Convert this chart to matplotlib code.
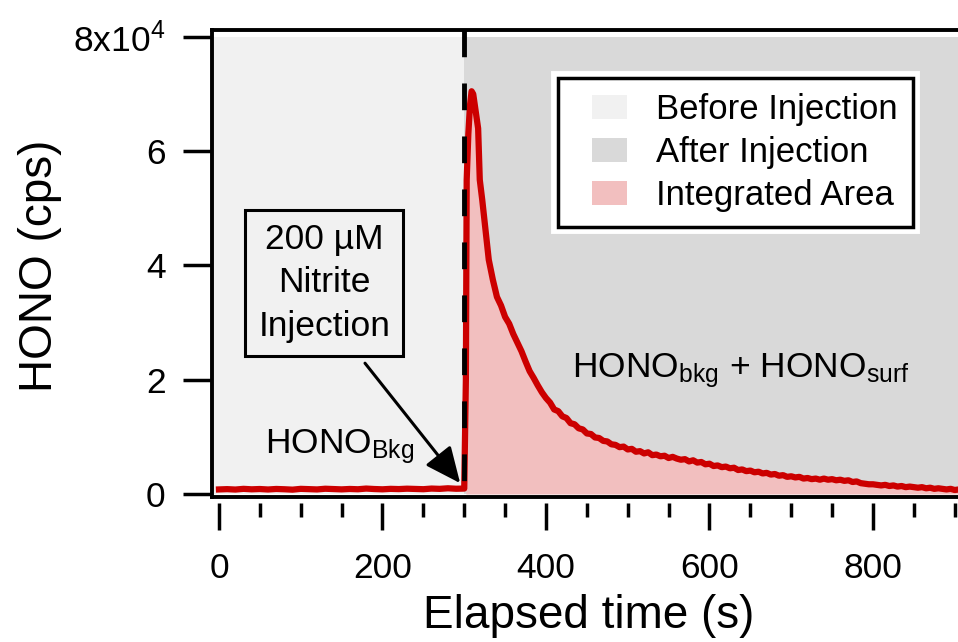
import matplotlib
matplotlib.use('Agg')
import matplotlib.pyplot as plt
import matplotlib.patches as mpatches
import matplotlib.patheffects as pe
from matplotlib.legend_handler import HandlerPatch
from matplotlib.ticker import FixedLocator, FixedFormatter, MultipleLocator
import numpy as np

plt.rcParams['font.family'] = 'Liberation Sans'
plt.rcParams['mathtext.fontset'] = 'custom'
plt.rcParams['mathtext.rm'] = 'Liberation Sans'
plt.rcParams['mathtext.it'] = 'Liberation Sans:italic'
plt.rcParams['mathtext.bf'] = 'Liberation Sans:bold'

# elapsed time (s) and HONO signal (cps)
time_s = [0, 10, 20, 30, 40, 50, 60, 70, 80, 90, 100, 110, 120, 130, 140, 150,
          160, 170, 180, 190, 200, 210, 220, 230, 240, 250, 260, 270, 280, 290, 300,
          302, 303, 305, 307, 309, 311, 313, 315, 317, 319,
          322, 325, 330, 335, 340, 345, 350, 355, 360, 365, 370, 375, 380, 385, 390, 395,
          400, 405, 410, 415, 420, 425, 430, 435, 440, 445, 450, 455, 460, 465, 470, 475,
          480, 485, 490, 495, 500, 505, 510, 515, 520, 525, 530, 535, 540, 545, 550, 555,
          560, 565, 570, 575, 580, 585, 590, 595, 600, 605, 610, 615, 620, 625, 630, 635,
          640, 645, 650, 655, 660, 665, 670, 675, 680, 685, 690, 695, 700, 705, 710, 715,
          720, 725, 730, 735, 740, 745, 750, 755, 760, 765, 770, 775, 780, 785, 790, 795,
          800, 805, 810, 815, 820, 825, 830, 835, 840, 845, 850, 855, 860, 865, 870, 875,
          880, 885, 890, 895, 900, 905, 910]
hono_cps = [800, 850, 780, 900, 820, 870, 790, 880, 830, 760, 900, 850, 800, 920, 860, 810,
            880, 830, 950, 870, 820, 900, 860, 930, 880, 840, 950, 900, 1000, 920, 950,
            20000, 55000, 63000, 68000, 70500, 70000, 68000, 66000, 64000, 55000,
            51500, 47500, 41000, 37500, 34500, 33000, 31000, 29800, 28000, 26500, 25000, 23200,
            21500, 20300, 19000, 17800,
            16800, 16000, 14800, 14500, 13600, 13300, 12400, 12200, 11500, 11300, 10600, 10500,
            9900, 9800, 9300, 9200, 8700, 8600, 8200, 8300, 7800, 7900, 7400, 7500, 7100, 7300,
            6800, 6900, 6600, 6700, 6300, 6500, 6200, 6000, 6100, 5700, 5900, 5500, 5600, 5200,
            5300, 4900, 5000, 4700, 4800, 4500, 4600, 4200, 4300, 4000, 4100, 3800, 3900, 3600,
            3700, 3400, 3500, 3200, 3300, 3000, 3100, 2900, 3000, 2700, 2800, 2600, 2700, 2500,
            2700, 2500, 2600, 2400, 2500, 2300, 2400, 2100, 2200, 1900, 1800, 1700, 1700, 1600,
            1500, 1600, 1400, 1500, 1300, 1400, 1200, 1300, 1200, 1100, 1200, 1000, 1100, 900,
            1000, 900, 800, 900, 700, 800, 750]

injection_time = 300
x_ticks = [0, 200, 400, 600, 800]
y_ticks = [0, 20000, 40000, 60000, 80000]
y_tick_labels = ['0', '2', '4', '6', r'8x10$^{\mathregular{4}}$']
legend_labels = ['Before Injection', 'After Injection', 'Integrated Area']
legend_colors = ['#f1f1f1', '#d9d9d9', '#f2bfbf']


def legend_box(legend, orig_handle, xdescent, ydescent, width, height, fontsize):
    # square swatch pushed to the right end of the handle slot
    return mpatches.Rectangle((-xdescent + width - fontsize, -ydescent), fontsize, height)


def main():
    t = np.array(time_s)
    cps = np.array(hono_cps)

    fig = plt.figure(figsize=(9.58, 6.42), dpi=100)
    ax = fig.add_axes([212/958, 145/642, 750/958, 467/642])
    ax.set_xlim(-8.56, 908.9)
    ax.set_ylim(-525, 81225)

    # shaded periods
    ax.fill_between([-6, injection_time], 0, 80000, color=legend_colors[0], lw=0, zorder=0)
    ax.fill_between([injection_time, 930], 0, 80000, color=legend_colors[1], lw=0, zorder=0)
    after = t >= 302
    ax.fill_between(t[after], 0, cps[after], color=legend_colors[2], lw=0, zorder=1)

    ax.plot(t, cps, color='#cc0000', lw=4.5, zorder=3)
    ax.plot([injection_time, injection_time], [81225, 0], color='k', lw=3.5,
            linestyle=(0, (5.5, 5.4)), zorder=4)

    # frame
    for s in ['left', 'top']:
        ax.spines[s].set_linewidth(2.8)
    ax.spines['right'].set_visible(False)
    ax.spines['bottom'].set_position(('outward', 4.3))
    ax.spines['bottom'].set_visible(False)
    ax.plot([0, 1], [0, 0], transform=ax.transAxes, color='k', lw=2.8,
            clip_on=False, zorder=5, solid_capstyle='projecting')

    ax.xaxis.set_major_locator(FixedLocator(x_ticks))
    ax.xaxis.set_minor_locator(MultipleLocator(50))
    ax.yaxis.set_major_locator(FixedLocator(y_ticks))
    ax.yaxis.set_major_formatter(FixedFormatter(y_tick_labels))
    ax.tick_params(axis='x', which='major', length=19.5, width=2.5, pad=16, labelsize=25.5)
    ax.tick_params(axis='x', which='minor', length=10, width=2.5)
    ax.tick_params(axis='y', which='major', length=21, width=2.5, pad=12.5, labelsize=25.5)

    ax.set_xlabel('Elapsed time (s)', fontsize=33)
    ax.xaxis.set_label_coords(0.502, -0.2077)
    ax.set_ylabel('HONO (cps)', fontsize=33)
    ax.yaxis.set_label_coords(-0.2005, 0.4957)

    # annotations
    ax.text(129, 37000, '200 µM\nNitrite\nInjection', ha='center', va='center',
            fontsize=25.5, linespacing=1.4, multialignment='center', zorder=5,
            bbox=dict(boxstyle='square,pad=0.37', fc='none', ec='k', lw=2.2))
    ax.annotate('', xy=(295, 1900), xytext=(178.6, 22900), zorder=5,
                arrowprops=dict(arrowstyle='-|>,head_length=1.0,head_width=0.45',
                                mutation_scale=22, lw=2.2, color='k',
                                shrinkA=0, shrinkB=0))
    ax.text(56, 7200, r'HONO$_{\mathregular{Bkg}}$', fontsize=25.5,
            ha='left', va='baseline', zorder=5)
    ax.text(432, 20500, r'HONO$_{\mathregular{bkg}}$ + HONO$_{\mathregular{surf}}$',
            fontsize=25.5, ha='left', va='baseline', zorder=5)

    handles = [mpatches.Patch(facecolor=c, edgecolor='none', label=l)
               for c, l in zip(legend_colors, legend_labels)]
    leg = ax.legend(handles=handles, loc='upper right',
                    bbox_to_anchor=(913/958, 564/642), bbox_transform=fig.transFigure,
                    borderaxespad=0, fontsize=25, frameon=True, fancybox=False,
                    edgecolor='k', facecolor='white', framealpha=1,
                    borderpad=0.43, handlelength=1.55, handleheight=0.71,
                    handletextpad=0.85, labelspacing=0.29,
                    handler_map={mpatches.Patch: HandlerPatch(patch_func=legend_box)})
    leg.get_frame().set_linewidth(2.5)
    leg.get_frame().set_path_effects([pe.withStroke(linewidth=10, foreground='white')])
    leg.set_zorder(6)

    fig.savefig('out.png', dpi=100)


if __name__ == '__main__':
    main()
